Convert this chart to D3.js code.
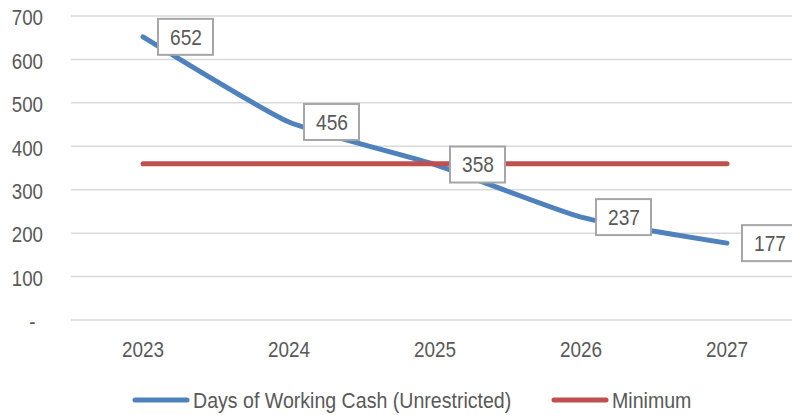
<!DOCTYPE html>
<html><head><meta charset="utf-8">
<script src="https://cdn.jsdelivr.net/npm/d3@7"></script>
<style>body{margin:0;background:#fff}svg{display:block}text{font-family:"Liberation Sans Narrow","Arial Narrow","Liberation Sans",Arial,sans-serif;fill:#595959}</style>
</head><body>
<script>
const years = ["2023","2024","2025","2026","2027"];
const daysCash = [652,456,358,237,177];
const minimum = [360,360,360,360,360];
const yTicks = [0,100,200,300,400,500,600,700];
const seriesNames = ["Days of Working Cash (Unrestricted)","Minimum"];

const W=792,H=415;
const FS=22;
const svg=d3.select("body").append("svg").attr("width",W).attr("height",H);
const x=d3.scaleBand().domain(years).range([70,800]).padding(0);
const cx=d=>x(d)+x.bandwidth()/2;
const y=d3.scaleLinear().domain([0,700]).range([320,16]);

// detect whether a narrow font is actually in use
const probe=svg.append("text").attr("font-size",FS).text("0000000000");
const pw=probe.node().getComputedTextLength();probe.remove();
const natural=FS*0.556*10; // regular Arial width
const narrow = pw < natural*0.9;
const sx = t => narrow ? 1 : t;

// gridlines
svg.append("g").selectAll("line").data(yTicks).join("line")
  .attr("x1",71).attr("x2",W).attr("y1",d=>y(d)).attr("y2",d=>y(d))
  .attr("stroke","#d9d9d9").attr("stroke-width",1.5);

// y axis labels
const yAxis=d3.axisLeft(y).tickValues(yTicks).tickSize(0).tickPadding(0)
  .tickFormat(d=>d===0?"-":d);
const ya=svg.append("g").attr("transform","translate(43,0)").call(yAxis);
ya.select(".domain").remove();
ya.selectAll("text").attr("font-size",FS).style("fill","#595959").attr("dy","0.4em")
  .attr("font-family",null).attr("transform",`scale(${sx(0.85)},1)`);
ya.selectAll("text").filter(d=>d===0).attr("x",-9);

// x axis labels
const xAxis=d3.axisBottom(x).tickSize(0).tickPadding(0);
const xa=svg.append("g").attr("transform","translate(0,341)").call(xAxis);
xa.select(".domain").remove();
xa.selectAll("text").attr("font-size",FS).style("fill","#595959").attr("dy","0.71em")
  .attr("font-family",null).attr("transform",`scale(${sx(0.86)},1)`);

const line=d3.line().x((d,i)=>cx(years[i])).y(d=>y(d)).curve(d3.curveCardinal.tension(0.5));
svg.append("path").datum(daysCash).attr("d",line).attr("fill","none")
  .attr("stroke","#4f81bd").attr("stroke-width",5).attr("stroke-linecap","round").attr("stroke-linejoin","round");
svg.append("path").datum(minimum).attr("d",d3.line().x((d,i)=>cx(years[i])).y(d=>y(d))).attr("fill","none")
  .attr("stroke","#c0504d").attr("stroke-width",5).attr("stroke-linecap","round");

// data labels
const lab=svg.append("g").selectAll("g").data(daysCash).join("g")
  .attr("transform",(d,i)=>`translate(${cx(years[i])+15},${y(d)})`);
lab.append("rect").attr("x",0).attr("y",-18).attr("width",55).attr("height",36)
  .attr("fill","#fff").attr("stroke","#a6a6a6").attr("stroke-width",2);
lab.append("text").attr("transform",`translate(28,0) scale(${sx(0.87)},1)`).attr("dy","0.36em").attr("text-anchor","middle")
  .attr("font-size",FS).text(d=>d);

// legend
const leg=[{name:seriesNames[0],color:"#4f81bd",x1:135,x2:187,tx:193},{name:seriesNames[1],color:"#c0504d",x1:554,x2:606,tx:612}];
const lg=svg.append("g").selectAll("g").data(leg).join("g");
lg.append("line").attr("x1",d=>d.x1).attr("x2",d=>d.x2).attr("y1",400).attr("y2",400)
  .attr("stroke",d=>d.color).attr("stroke-width",5).attr("stroke-linecap","round");
lg.append("text").attr("transform",d=>`translate(${d.tx},400) scale(${sx(0.89)},1)`).attr("dy","0.36em").attr("font-size",FS).text(d=>d.name);
</script>
</body></html>
